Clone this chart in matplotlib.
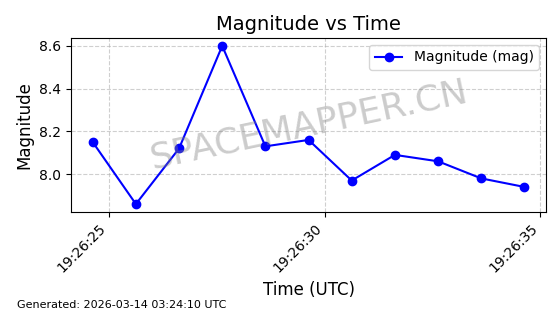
import datetime as dt

import matplotlib
matplotlib.use("Agg")
import matplotlib.pyplot as plt
import matplotlib.dates as mdates

# Данные
start = dt.datetime(2026, 3, 13, 19, 26, 24, 630000)
offsets_s = [0, 1, 2, 3, 4, 5, 6, 7, 8, 9, 10]
magnitudes = [8.15, 7.86, 8.12, 8.60, 8.13, 8.16, 7.97, 8.09, 8.06, 7.98, 7.94]
times = [start + dt.timedelta(seconds=s) for s in offsets_s]

fig, ax = plt.subplots(figsize=(5.6, 3.14), dpi=100)
ax.plot(times, magnitudes, "-o", color="blue", markersize=6, linewidth=1.5,
        label="Magnitude (mag)")

ax.set_title("Magnitude vs Time", fontsize=14)
ax.set_xlabel("Time (UTC)", fontsize=12)
ax.set_ylabel("Magnitude", fontsize=12)
ax.grid(True, linestyle="--", alpha=0.6)
ax.legend(loc="upper right")

ax.xaxis.set_major_locator(mdates.SecondLocator(bysecond=range(0, 60, 5)))
ax.xaxis.set_major_formatter(mdates.DateFormatter("%H:%M:%S"))
plt.setp(ax.get_xticklabels(), rotation=45, ha="right")

# Водяной знак
ax.text(0.5, 0.5, "SPACEMAPPER.CN", transform=ax.transAxes, fontsize=26,
        color="gray", alpha=0.4, rotation=12, ha="center", va="center")

fig.text(0.03, 0.02, "Generated: 2026-03-14 03:24:10 UTC", fontsize=8)

fig.subplots_adjust(left=0.127, right=0.975, top=0.879, bottom=0.325)
fig.savefig("out.png", dpi=100)
plt.close(fig)
